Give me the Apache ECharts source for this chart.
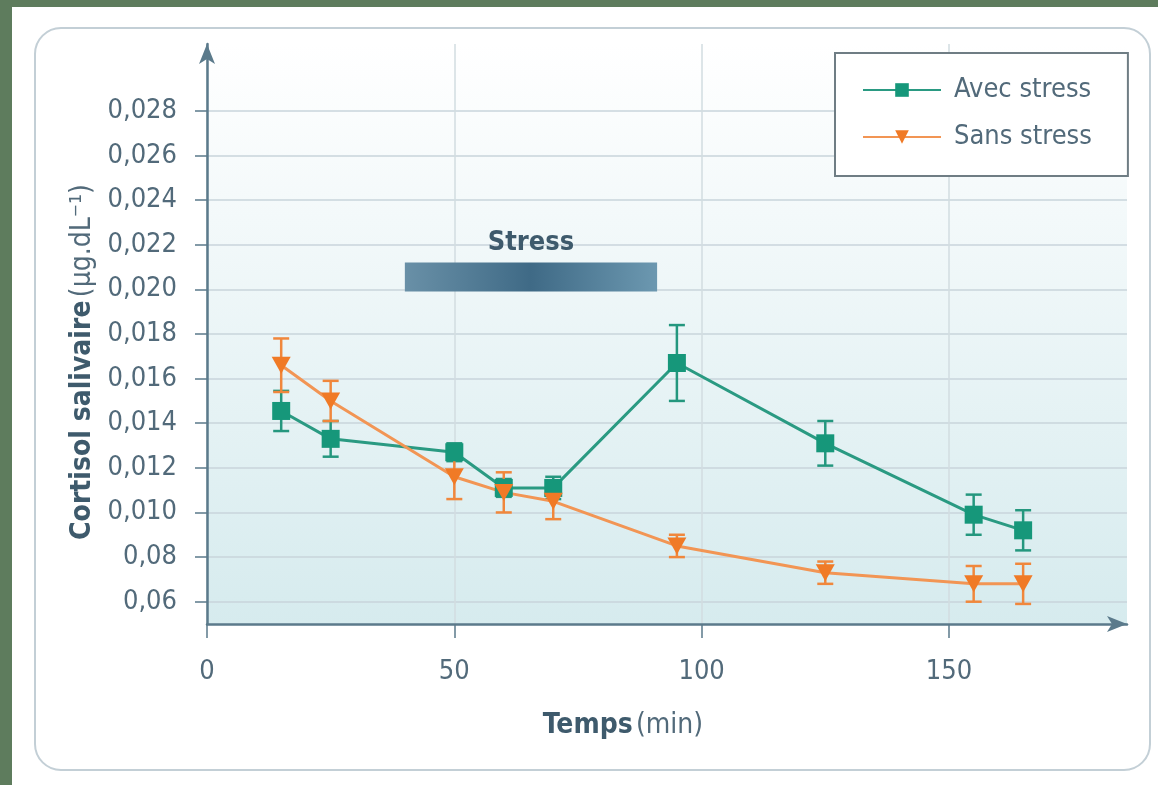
<!DOCTYPE html>
<html>
<head>
<meta charset="utf-8">
<title>Cortisol salivaire</title>
<script src="https://cdn.jsdelivr.net/npm/echarts@6/dist/echarts.min.js"></script>
<style>
  html, body { margin: 0; padding: 0; background: #5e7c5d; }
  #main { position: absolute; left: 12px; top: 7px; width: 1146px; height: 778px; background: #fff; }
</style>
</head>
<body>
<div id="main"></div>
<script type="text/javascript">
// temps de prélèvement (min)
var temps = [15, 25, 50, 60, 70, 95, 125, 155, 165];
// cortisol salivaire, moyenne et erreur
var avecStress = [0.01455, 0.0133, 0.0127, 0.0111, 0.0111, 0.0167, 0.0131, 0.0099, 0.0092];
var avecErr    = [0.0009, 0.0008, 0.0004, 0.0004, 0.0005, 0.0017, 0.0010, 0.0009, 0.0009];
var sansStress = [0.0166, 0.0150, 0.0116, 0.0109, 0.0105, 0.0085, 0.0073, 0.0068, 0.0068];
var sansErr    = [0.0012, 0.0009, 0.0010, 0.0009, 0.0008, 0.0005, 0.0005, 0.0008, 0.0009];
// graduations
var yTicks = [0.006, 0.008, 0.010, 0.012, 0.014, 0.016, 0.018, 0.020, 0.022, 0.024, 0.026, 0.028];
var yTickLabels = ['0,06', '0,08', '0,010', '0,012', '0,014', '0,016', '0,018', '0,020', '0,022', '0,024', '0,026', '0,028'];
var xTicks = [0, 50, 100, 150];
// période de stress
var stressPeriode = [40, 91];
var stressNiveau = [0.0199, 0.0212];

var F = "'Liberation Sans Narrow', 'DejaVu Sans Condensed', 'Liberation Sans', sans-serif";
var axisColor = '#5b7a8b';
var textColor = '#526a7a';

function errorBars(name, mean, err, color) {
    var data = temps.map(function (t, i) { return [t, mean[i] - err[i], mean[i] + err[i]]; });
    return {
        type: 'custom',
        name: name,
        data: data,
        silent: true,
        z: 2,
        encode: { x: 0, y: [1, 2] },
        renderItem: function (params, api) {
            var lo = api.coord([api.value(0), api.value(1)]);
            var hi = api.coord([api.value(0), api.value(2)]);
            var w = 8;
            var st = { stroke: color, lineWidth: 2.5 };
            return {
                type: 'group',
                children: [
                    { type: 'line', shape: { x1: lo[0], y1: lo[1], x2: hi[0], y2: hi[1] }, style: st },
                    { type: 'line', shape: { x1: lo[0] - w, y1: lo[1], x2: lo[0] + w, y2: lo[1] }, style: st },
                    { type: 'line', shape: { x1: hi[0] - w, y1: hi[1], x2: hi[0] + w, y2: hi[1] }, style: st }
                ]
            };
        }
    };
}

var myChart = echarts.init(document.getElementById('main'));

var option = {
    animation: false,
    backgroundColor: '#ffffff',
    graphic: [{
        type: 'rect',
        shape: { x: 23, y: 21, width: 1115, height: 742, r: 26 },
        style: { fill: 'rgba(0,0,0,0)', stroke: '#c3cfd6', lineWidth: 2 },
        z: -10
    }],
    grid: {
        left: 195, right: 31, top: 37, bottom: 161,
        show: true,
        borderWidth: 0,
        backgroundColor: new echarts.graphic.LinearGradient(0, 0, 0, 1, [
            { offset: 0, color: '#ffffff' },
            { offset: 0.3, color: '#f3f9fa' },
            { offset: 1, color: '#d6ebee' }
        ])
    },
    legend: {
        data: ['Avec stress', 'Sans stress'],
        orient: 'vertical',
        left: 823, top: 46,
        backgroundColor: '#ffffff',
        borderColor: '#6f7d84',
        borderWidth: 2,
        padding: [22, 36, 24, 27],
        itemGap: 17,
        itemWidth: 78,
        itemHeight: 17,
        textStyle: { fontFamily: F, fontSize: 27, color: textColor, lineHeight: 30, padding: [0, 0, 0, 8] }
    },
    xAxis: {
        type: 'value',
        min: 0, max: 186,
        name: '{b|Temps} {n|(min)}',
        nameLocation: 'middle',
        nameGap: 88,
        nameTextStyle: {
            padding: [0, 88, 0, 0],
            rich: {
                b: { fontFamily: F, fontWeight: 'bold', fontSize: 28, color: '#3e5a6c' },
                n: { fontFamily: F, fontSize: 28, color: textColor }
            }
        },
        axisLine: { lineStyle: { color: axisColor, width: 2.5 }, symbol: ['none', 'arrow'], symbolSize: [12, 20] },
        axisTick: { customValues: xTicks, length: 14, lineStyle: { color: axisColor, width: 1.5 } },
        axisLabel: { customValues: xTicks, margin: 34, fontFamily: F, fontSize: 27, color: textColor },
        splitLine: { show: true, lineStyle: { color: '#d2dce1', width: 1.5 } }
    },
    yAxis: {
        type: 'value',
        min: 0.005, max: 0.031,
        name: '{b|Cortisol salivaire} {n|(µg.dL⁻¹)}',
        nameLocation: 'middle',
        nameRotate: 90,
        nameGap: 110,
        nameTextStyle: {
            padding: [0, 56, 0, 0],
            rich: {
                b: { fontFamily: F, fontWeight: 'bold', fontSize: 28, color: '#3e5a6c' },
                n: { fontFamily: F, fontSize: 28, color: textColor }
            }
        },
        axisLine: { show: true, lineStyle: { color: axisColor, width: 2.5 }, symbol: ['none', 'arrow'], symbolSize: [12, 20] },
        axisTick: { show: true, customValues: yTicks, length: 12, lineStyle: { color: axisColor, width: 1.5 } },
        axisLabel: {
            customValues: yTicks,
            margin: 30,
            fontFamily: F, fontSize: 27, color: textColor,
            formatter: function (v) {
                for (var i = 0; i < yTicks.length; i++) {
                    if (Math.abs(yTicks[i] - v) < 1e-7) return yTickLabels[i];
                }
                return '';
            }
        },
        splitLine: { show: true, lineStyle: { color: '#c9d5db', width: 1.5 } }
    },
    series: [
        {
            type: 'custom',
            name: 'stress',
            silent: true,
            z: 1,
            data: [[stressPeriode[0], stressPeriode[1], stressNiveau[0], stressNiveau[1]]],
            encode: { x: [0, 1], y: [2, 3] },
            renderItem: function (params, api) {
                var p1 = api.coord([api.value(0), api.value(3)]);
                var p2 = api.coord([api.value(1), api.value(2)]);
                return {
                    type: 'group',
                    children: [
                        {
                            type: 'rect',
                            shape: { x: p1[0], y: p1[1], width: p2[0] - p1[0], height: p2[1] - p1[1] },
                            style: {
                                fill: new echarts.graphic.LinearGradient(0, 0, 1, 0, [
                                    { offset: 0, color: '#6990a7' },
                                    { offset: 0.5, color: '#3f6a86' },
                                    { offset: 1, color: '#6c98b0' }
                                ])
                            }
                        },
                        {
                            type: 'text',
                            x: (p1[0] + p2[0]) / 2,
                            y: p1[1] - 6,
                            style: {
                                text: 'Stress',
                                font: 'bold 27px ' + F,
                                fill: '#3e5a6c',
                                textAlign: 'center',
                                textVerticalAlign: 'bottom'
                            }
                        }
                    ]
                };
            }
        },
        errorBars('err-avec', avecStress, avecErr, '#24977e'),
        errorBars('err-sans', sansStress, sansErr, '#f0873c'),
        {
            name: 'Avec stress',
            type: 'line',
            z: 3,
            data: temps.map(function (t, i) { return [t, avecStress[i]]; }),
            symbol: 'rect',
            symbolSize: 18,
            itemStyle: { color: '#16977a' },
            lineStyle: { color: '#2a9a82', width: 3 }
        },
        {
            name: 'Sans stress',
            type: 'line',
            z: 3,
            data: temps.map(function (t, i) { return [t, sansStress[i]]; }),
            symbol: 'triangle',
            symbolRotate: 180,
            symbolSize: [19, 17],
            itemStyle: { color: '#f07a26' },
            lineStyle: { color: '#f29554', width: 3 }
        }
    ]
};

myChart.setOption(option);
</script>
</body>
</html>
